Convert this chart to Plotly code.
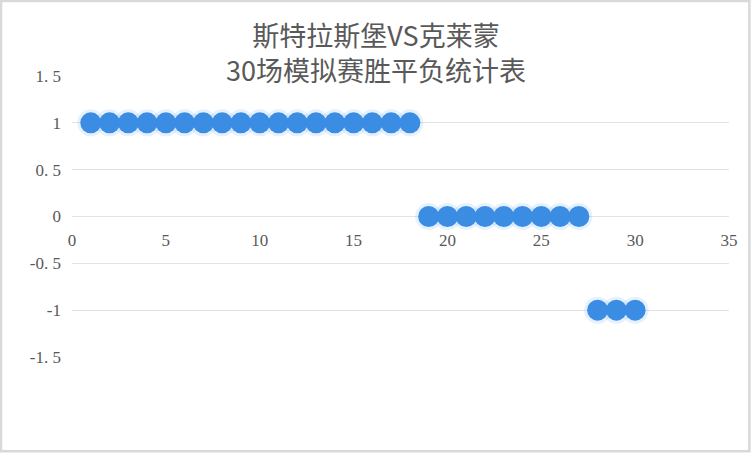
import plotly.graph_objects as go

# match number (x) and result (y): 1 = win, 0 = draw, -1 = loss
matches = list(range(1, 31))
results = [1] * 18 + [0] * 9 + [-1] * 3

title_lines = ['斯特拉斯堡VS克莱蒙', '30场模拟赛胜平负统计表']
x_ticks = [0, 5, 10, 15, 20, 25, 30, 35]
y_ticks = [-1.5, -1, -0.5, 0, 0.5, 1, 1.5]
y_labels = ['-1. 5', '-1', '-0. 5', '0', '0. 5', '1', '1. 5']

fig = go.Figure()
# soft glow behind the markers
fig.add_trace(go.Scatter(x=matches, y=results, mode='markers', hoverinfo='skip',
                         marker=dict(size=27, color='rgba(90,160,240,0.15)', line=dict(width=0))))
fig.add_trace(go.Scatter(x=matches, y=results, mode='markers', name='result',
                         marker=dict(size=21, color='#3A8DE3', line=dict(width=0))))

tick_font = dict(family='Liberation Serif, DejaVu Serif, serif', size=17, color='#595959')
title_font = dict(family='Noto Sans CJK SC', size=27, color='#595959')

fig.update_layout(
    width=752, height=465,
    margin=dict(l=72, r=23, t=76, b=108),
    paper_bgcolor='white', plot_bgcolor='white',
    showlegend=False,
    xaxis=dict(range=[0, 35], tickvals=x_ticks, showgrid=False, zeroline=False,
               showline=False, ticks='', anchor='free', position=0.5,
               tickfont=tick_font, ticklabelstandoff=11),
    yaxis=dict(range=[-1.5, 1.5], tickvals=y_ticks, ticktext=y_labels,
               showgrid=True, gridcolor='#E3E3E3', gridwidth=1.3, zeroline=False,
               showline=False, ticks='', tickfont=tick_font, ticklabelstandoff=10),
    shapes=[dict(type='rect', xref='paper', yref='paper',
                 x0=-0.108, x1=1.031, y0=-0.335, y1=1.267,
                 line=dict(color='#D9D9D9', width=2.5))],
    annotations=[
        dict(text='<br>'.join(title_lines), xref='paper', yref='paper', x=0.4627, y=1.087,
             xanchor='center', yanchor='middle', showarrow=False, font=title_font),
    ],
)

fig.write_html('out.html', config={'displayModeBar': False},
               post_script="document.body.style.margin='0px';")
